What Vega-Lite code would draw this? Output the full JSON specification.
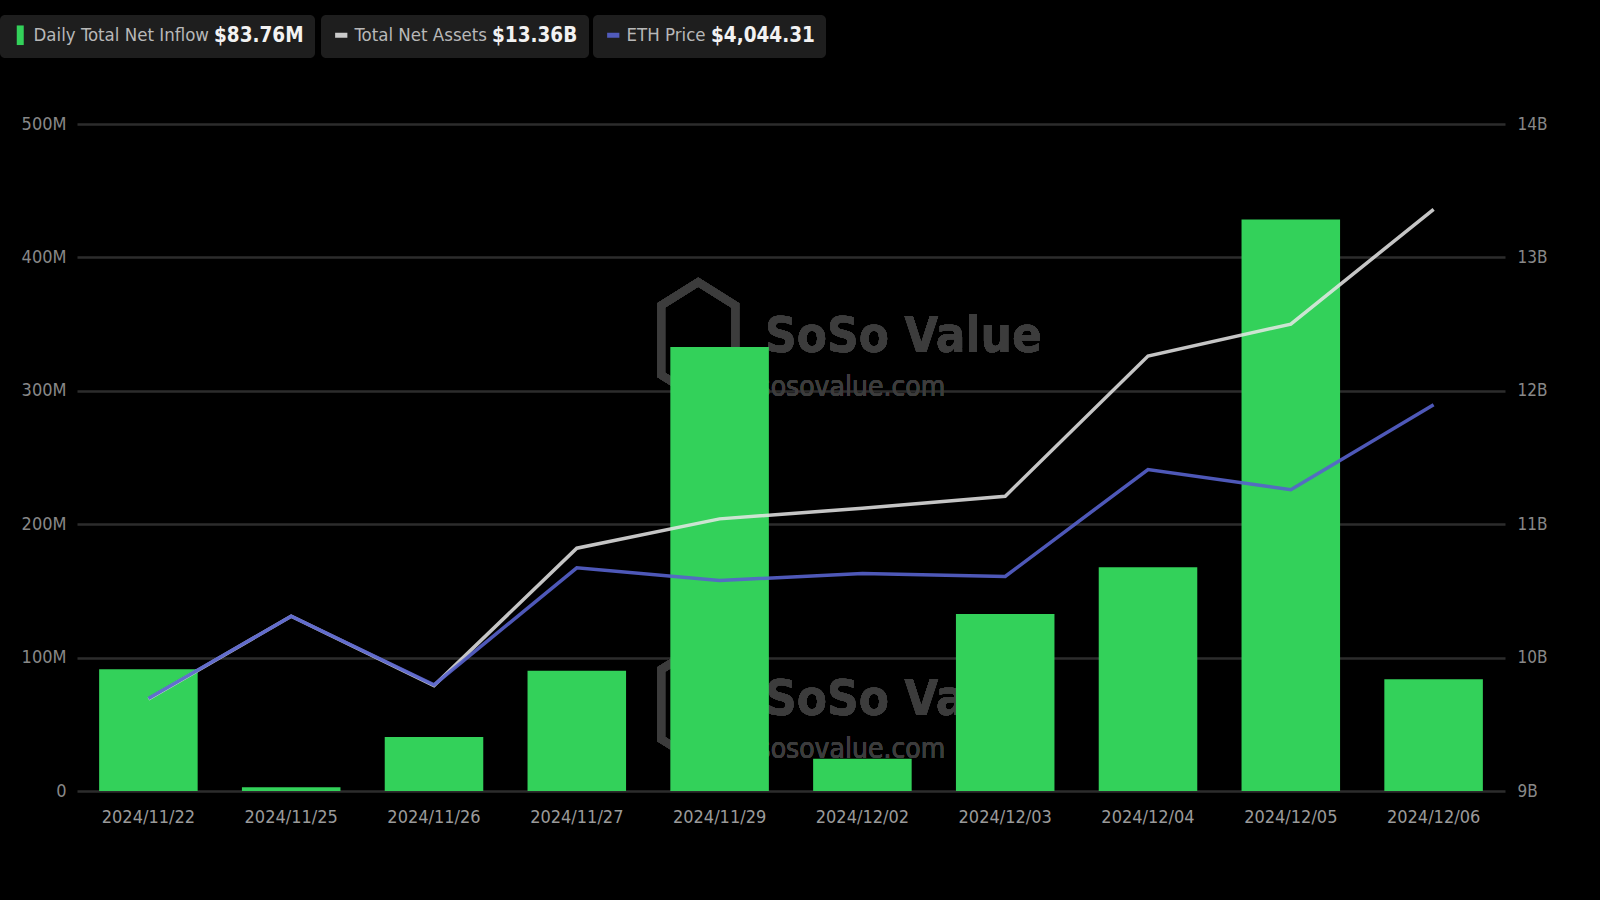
{
  "$schema": "https://vega.github.io/schema/vega-lite/v6.json",
  "width": 1428,
  "height": 667,
  "autosize": "none",
  "padding": {"left": 77, "top": 124, "right": 95, "bottom": 109},
  "background": "#000000",
  "config": {
    "view": {"stroke": null},
    "font": "DejaVu Sans Condensed, Roboto, sans-serif",
    "legend": {
      "orient": "none",
      "fillColor": "#1e1e1e",
      "cornerRadius": 5,
      "padding": 11,
      "labelColor": "#b8b8b8",
      "labelFont": "DejaVu Sans Condensed, Roboto, sans-serif",
      "labelFontSize": 18.5,
      "labelLimit": 400,
      "labelOffset": 4,
      "titleOrient": "right",
      "titleColor": "#f2f2f2",
      "titleFont": "DejaVu Sans Condensed, Roboto, sans-serif",
      "titleFontSize": 20.5,
      "titleFontWeight": "bold",
      "titleLimit": 300,
      "titlePadding": 5,
      "titleBaseline": "middle",
      "titleAnchor": "middle"
    }
  },
  "data": {
    "values": [
      {"date": "2024/11/22", "inflow": 91.2, "assets": 9.69, "eth": 3330},
      {"date": "2024/11/25", "inflow": 2.8, "assets": 10.31, "eth": 3530},
      {"date": "2024/11/26", "inflow": 40.4, "assets": 9.79, "eth": 3363},
      {"date": "2024/11/27", "inflow": 90.1, "assets": 10.82, "eth": 3648},
      {"date": "2024/11/29", "inflow": 332.9, "assets": 11.04, "eth": 3617},
      {"date": "2024/12/02", "inflow": 24.2, "assets": 11.12, "eth": 3634},
      {"date": "2024/12/03", "inflow": 132.6, "assets": 11.21, "eth": 3627},
      {"date": "2024/12/04", "inflow": 167.7, "assets": 12.26, "eth": 3887},
      {"date": "2024/12/05", "inflow": 428.4, "assets": 12.5, "eth": 3838},
      {"date": "2024/12/06", "inflow": 83.76, "assets": 13.36, "eth": 4044.31}
    ]
  },
  "encoding": {
    "x": {
      "field": "date",
      "type": "ordinal",
      "scale": {"paddingInner": 0.31, "paddingOuter": 0.155},
      "axis": {
        "title": null,
        "labelAngle": 0,
        "ticks": false,
        "domain": false,
        "labelColor": "#9a9a9a",
        "labelFontSize": 18,
        "labelPadding": 17
      }
    }
  },
  "layer": [
    {
      "layer": [
        {
          "mark": {"type": "point", "shape": "M-0.37,-1L0.27,-0.6L0.27,0.6L-0.37,1L-1.01,0.6L-1.01,-0.6Z", "size": 13400, "filled": false, "stroke": "#3c3c3c", "strokeWidth": 8, "opacity": 1},
          "encoding": {"x": {"datum": "2024/11/29", "type": "ordinal"}, "y": {"datum": 338, "type": "quantitative"}}
        },
        {
          "mark": {"type": "point", "shape": "M-0.37,-1L0.27,-0.6L0.27,0.6L-0.37,1L-1.01,0.6L-1.01,-0.6Z", "size": 13400, "filled": false, "stroke": "#3c3c3c", "strokeWidth": 8, "opacity": 1},
          "encoding": {"x": {"datum": "2024/11/29", "type": "ordinal"}, "y": {"datum": 65, "type": "quantitative"}}
        },
        {
          "mark": {"type": "text", "text": "SoSo Value", "color": "#3c3c3c", "fontSize": 49, "fontWeight": "bold", "align": "center", "baseline": "alphabetic", "dx": 41},
          "encoding": {"x": {"datum": "2024/12/02", "type": "ordinal"}, "y": {"datum": 329, "type": "quantitative"}}
        },
        {
          "mark": {"type": "text", "text": "sosovalue.com", "color": "#3c3c3c", "fontSize": 28, "align": "center", "baseline": "alphabetic", "dx": -11},
          "encoding": {"x": {"datum": "2024/12/02", "type": "ordinal"}, "y": {"datum": 296, "type": "quantitative"}}
        },
        {
          "mark": {"type": "text", "text": "SoSo Value", "color": "#3c3c3c", "fontSize": 49, "fontWeight": "bold", "align": "center", "baseline": "alphabetic", "dx": 41},
          "encoding": {"x": {"datum": "2024/12/02", "type": "ordinal"}, "y": {"datum": 57, "type": "quantitative"}}
        },
        {
          "mark": {"type": "text", "text": "sosovalue.com", "color": "#3c3c3c", "fontSize": 28, "align": "center", "baseline": "alphabetic", "dx": -11},
          "encoding": {"x": {"datum": "2024/12/02", "type": "ordinal"}, "y": {"datum": 25, "type": "quantitative"}}
        },
        {
          "mark": {"type": "bar", "color": "#33d15a"},
          "encoding": {
            "y": {
              "field": "inflow",
              "type": "quantitative",
              "scale": {"domain": [0, 500], "nice": false},
              "axis": {
                "title": null,
                "values": [0, 100, 200, 300, 400, 500],
                "labelExpr": "datum.value == 0 ? '0' : datum.value + 'M'",
                "grid": true,
                "gridColor": "#2c2c2c",
                "gridWidth": 2.5,
                "domain": false,
                "ticks": false,
                "labelColor": "#888888",
                "labelFontSize": 18,
                "labelPadding": 11
              }
            },
            "fill": {
              "datum": "Daily Total Net Inflow",
              "type": "nominal",
              "scale": {"range": ["#33d15a"]},
              "legend": {
                "title": "$83.76M",
                "legendX": -77,
                "legendY": -109,
                "symbolType": "M-0.5,-1.4H0.5V1.4H-0.5Z",
                "symbolSize": 196,
                "symbolStrokeWidth": 0
              }
            }
          }
        }
      ]
    },
    {
      "mark": {"type": "line", "strokeWidth": 3.5, "opacity": 0.85},
      "encoding": {
        "y": {
          "field": "assets",
          "type": "quantitative",
          "scale": {"domain": [9, 14], "nice": false, "zero": false},
          "axis": {
            "orient": "right",
            "title": null,
            "values": [9, 10, 11, 12, 13, 14],
            "labelExpr": "datum.value + 'B'",
            "grid": false,
            "domain": false,
            "ticks": false,
            "labelColor": "#888888",
            "labelFontSize": 17,
            "labelPadding": 12
          }
        },
        "stroke": {
          "datum": "Total Net Assets",
          "type": "nominal",
          "scale": {"range": ["#e8e8e8"]},
          "legend": {
            "title": "$13.36B",
            "legendX": 244,
            "legendY": -109,
            "symbolType": "stroke",
            "symbolStrokeWidth": 5,
            "symbolSize": 150
          }
        }
      }
    },
    {
      "mark": {"type": "line", "strokeWidth": 3.5, "opacity": 0.9},
      "encoding": {
        "y": {
          "field": "eth",
          "type": "quantitative",
          "scale": {"domain": [3105, 4727.5], "nice": false, "zero": false},
          "axis": null
        },
        "stroke": {
          "datum": "ETH Price",
          "type": "nominal",
          "scale": {"range": ["#5762cc"]},
          "legend": {
            "title": "$4,044.31",
            "legendX": 516,
            "legendY": -109,
            "symbolType": "stroke",
            "symbolStrokeWidth": 5,
            "symbolSize": 150
          }
        }
      }
    }
  ],
  "resolve": {
    "scale": {"y": "independent", "stroke": "independent"},
    "legend": {"stroke": "independent"}
  }
}
